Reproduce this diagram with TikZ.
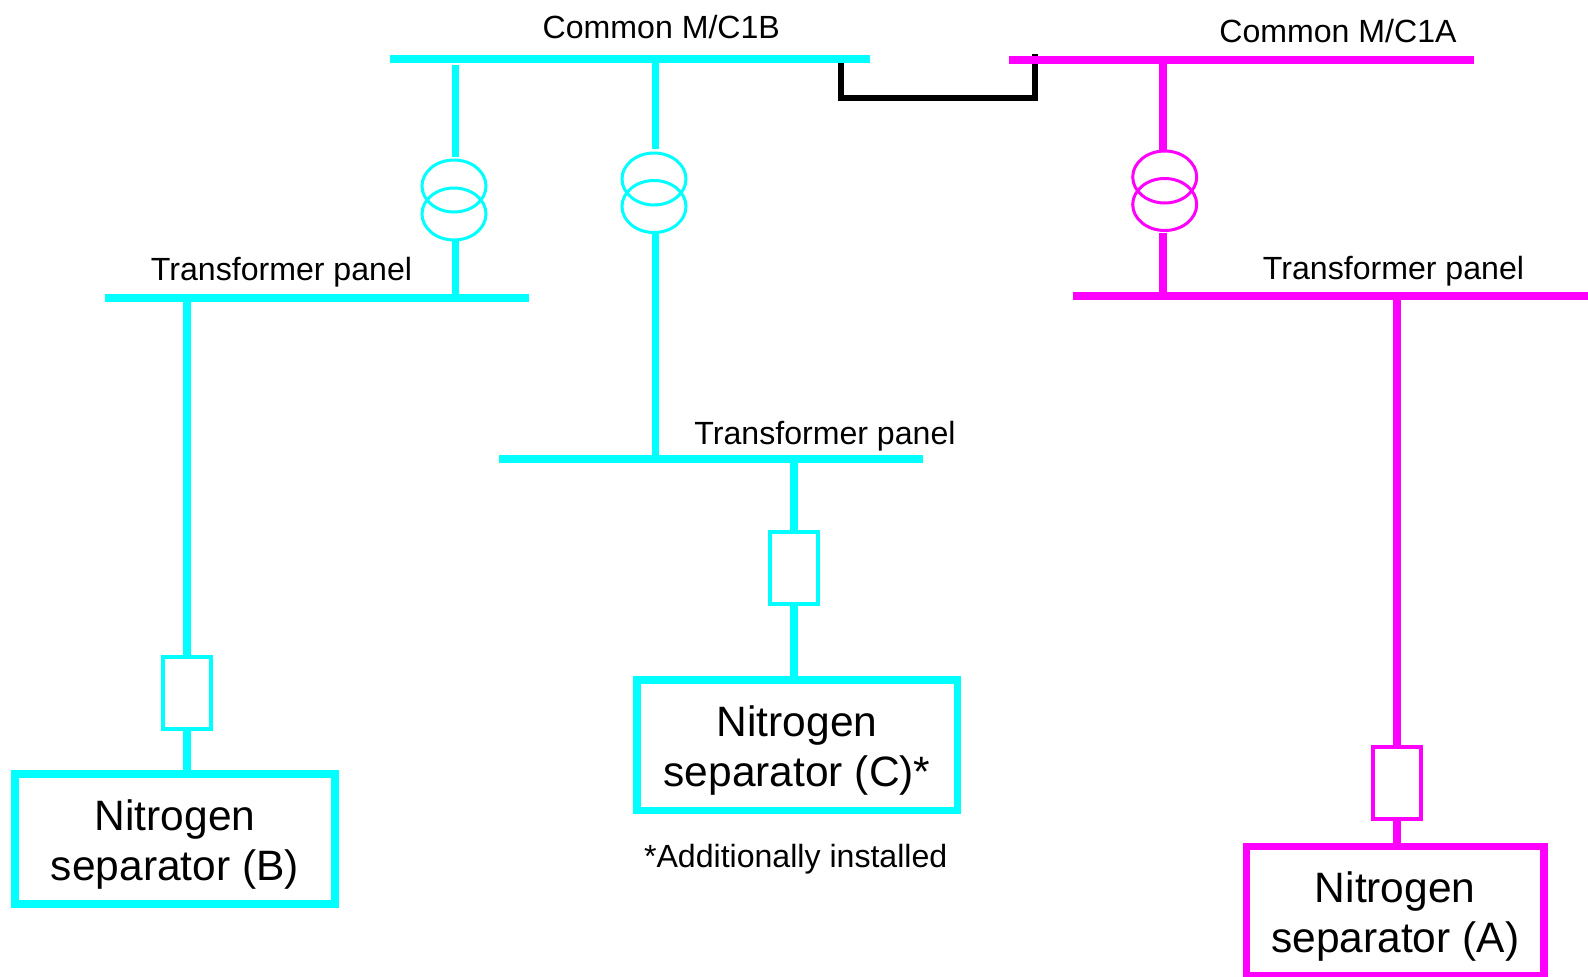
\documentclass[tikz,border=0pt]{standalone}
\usepackage{fontspec}
\setmainfont{Liberation Sans}
\usetikzlibrary{shapes.geometric}
\definecolor{cy}{RGB}{0,255,255}
\definecolor{mg}{RGB}{255,0,255}
\newcommand{\lbltxt}{\fontsize{32.1}{36}\selectfont}
\newcommand{\bigtxt}{\fontsize{42.5}{50.5}\selectfont}
\newcommand{\toppad}{\rule{0pt}{42pt}}
\tikzset{
  x=1pt,y=-1pt,
  lab/.style={anchor=base,inner sep=0,font=\lbltxt,text=black},
  bus/.style={fill=#1,draw=none,inner sep=0,minimum height=8pt},
  feeder/.style={draw=#1,line width=8pt},
  tx/.style={ellipse,draw=#1,line width=3pt,fill=none,minimum width=64pt,minimum height=52pt,inner sep=0},
  breaker/.style={rectangle,draw=#1,line width=4pt,minimum width=48pt,minimum height=72pt,inner sep=0,fill=white},
  sepbox/.style={rectangle,draw=#1,line width=7.5pt,inner sep=0,align=center,font=\bigtxt,text=black},
}
\begin{document}
\begin{tikzpicture}
\useasboundingbox (0,0) rectangle (1588,977);
\clip (0,0) rectangle (1588,977);
% tie, beneath the buses
\coordinate (tieL) at (840.5,63);
\coordinate (tieR) at (1034.5,54);
\draw[line width=6pt,black,line cap=butt] (tieL) -- (840.5,97.5) -- (1034.5,97.5) -- (tieR);
% buses
\node[bus=cy,minimum width=480pt] (c1b) at (630,59) {};
\node[bus=mg,minimum width=465pt] (c1a) at (1241.5,59.7) {};
\node[bus=cy,minimum width=424pt] (tpl) at (317,298) {};
\node[bus=cy,minimum width=424pt] (tpc) at (711,458.5) {};
\node[bus=mg,minimum width=515pt] (tpr) at (1330.5,295.5) {};
% transformers
\node[tx=cy] (t1a) at (454,186) {};
\node[tx=cy] (t1b) at (454,214) {};
\node[tx=cy] (t2a) at (654,179) {};
\node[tx=cy] (t2b) at (654,206.5) {};
\node[tx=mg] (t3a) at (1164.7,177) {};
\node[tx=mg] (t3b) at (1164.7,204.5) {};
% feeder ends
\coordinate (f1top) at (455.3,65);
\coordinate (f1a) at (455.3,157);
\coordinate (f1b) at (455.3,240);
\coordinate (f2a) at (655.5,149);
\coordinate (f2b) at (655.5,232);
\coordinate (f3a) at (1163,150);
\coordinate (f3b) at (1163,233);
% loads
\node[breaker=cy] (bb) at (186.5,692.5) {};
\node[breaker=cy] (bc) at (793.5,567.5) {};
\node[breaker=mg] (ba) at (1397.3,783) {};
\node[sepbox=cy,minimum width=320pt,minimum height=130pt] (sb) at (175,839) {\toppad Nitrogen\\separator (B)};
\node[sepbox=cy,minimum width=320.5pt,minimum height=130.5pt] (sc) at (797,745) {\toppad Nitrogen\\separator (C)*};
\node[sepbox=mg,minimum width=297.5pt,minimum height=129pt] (sa) at (1395.2,911) {\toppad Nitrogen\\separator (A)};
% feeders
\draw[feeder=cy,line width=7.3pt] (f1top) -- (f1a);
\draw[feeder=cy,line width=7.3pt] (f1b) -- (f1b |- tpl.center);
\draw[feeder=cy,line width=7.3pt] (f2a |- c1b.center) -- (f2a);
\draw[feeder=cy,line width=7.3pt] (f2b) -- (f2b |- tpc.center);
\draw[feeder=mg] (f3a |- c1a.center) -- (f3a);
\draw[feeder=mg] (f3b) -- (f3b |- tpr.center);
\draw[feeder=cy] (bb.north |- tpl.center) -- (bb.north);
\draw[feeder=cy] (bb.south) -- (sb.north -| bb.south);
\draw[feeder=cy] (bc.north |- tpc.center) -- (bc.north);
\draw[feeder=cy] (bc.south) -- (sc.north -| bc.south);
\draw[feeder=mg] (ba.north |- tpr.center) -- (ba.north);
\draw[feeder=mg] (ba.south) -- (sa.north -| ba.south);
% labels
\node[lab] (l1) at (661.3,38) {Common M/C1B};
\node[lab] (l2) at (1338,42.4) {Common M/C1A};
\node[lab] (l3) at (281.5,280.7) {Transformer panel};
\node[lab] (l4) at (825,444) {Transformer panel};
\node[lab] (l5) at (1393.5,279.7) {Transformer panel};
\node[lab] (l6) at (795.7,867.7) {*Additionally installed};
\end{tikzpicture}
\end{document}
